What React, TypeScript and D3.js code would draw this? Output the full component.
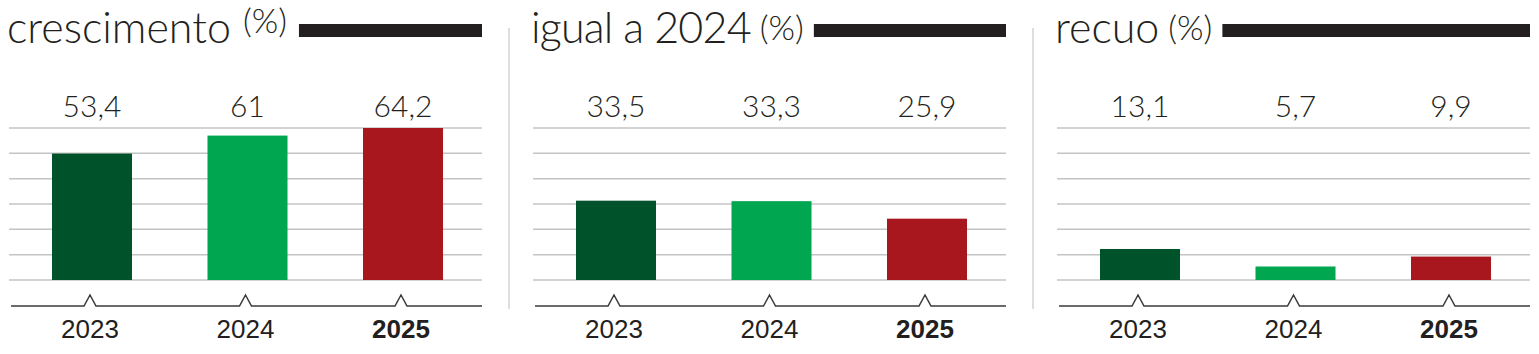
import React, { useEffect, useRef } from 'react';
import * as d3 from 'd3';

// dados (%)
const years = ['2023', '2024', '2025'];
const titles = ['crescimento', 'igual a 2024', 'recuo'];
const crescimento = [53.4, 61, 64.2];
const igual = [33.5, 33.3, 25.9];
const recuo = [13.1, 5.7, 9.9];
const barColors = ['#00522a', '#00a650', '#a8171e'];

const App = () => {
  const ref = useRef<SVGSVGElement>(null);

  useEffect(() => {
    const svg = d3.select(ref.current);
    svg.selectAll('*').remove();

    const series = [crescimento, igual, recuo];
    const panelW = 473;
    const panelX = [9, 533, 1057];
    const baseY = 280;
    const topY = 128;

    const y = d3.scaleLinear().domain([0, 64.2]).range([baseY, topY]);
    const x = d3.scaleBand().domain(years).range([0, 477]).paddingInner(0.4855).paddingOuter(0.2765);
    const fmt = (v: number) => String(v).replace('.', ',');

    // divisórias
    [509, 1033].forEach((dx) => {
      svg.append('line')
        .attr('x1', dx).attr('x2', dx)
        .attr('y1', 28).attr('y2', 309)
        .attr('stroke', '#c8c8c8').attr('stroke-width', 1.2);
    });

    series.forEach((vals, i) => {
      const g = svg.append('g').attr('transform', `translate(${panelX[i]},0)`);

      // título
      const title = g.append('text')
        .attr('x', -2).attr('y', 43)
        .attr('font-family', 'Lato, "Open Sans", sans-serif')
        .attr('font-weight', 300)
        .attr('font-size', 43)
        .attr('letter-spacing', i === 1 ? -0.8 : 0)
        .attr('fill', '#231f20')
        .text(titles[i]);
      const tw = (title.node() as SVGTextElement).getBBox().width;
      const pctX = -2 + tw + (i === 0 ? 12 : 9);
      const pct = g.append('text')
        .attr('x', pctX).attr('y', i === 0 ? 33 : 40)
        .attr('font-family', 'Lato, "Open Sans", sans-serif')
        .attr('font-weight', 300)
        .attr('font-size', 34)
        .attr('fill', '#231f20')
        .text('(%)');
      const pw = (pct.node() as SVGTextElement).getBBox().width;
      const barStart = pctX + pw + (i === 0 ? 12 : 10);
      g.append('rect')
        .attr('x', barStart).attr('y', 24)
        .attr('width', panelW - barStart).attr('height', 13)
        .attr('fill', '#231f20');

      // linhas de grade
      g.selectAll('line.grid')
        .data(d3.range(7))
        .enter()
        .append('line')
        .attr('class', 'grid')
        .attr('x1', 0).attr('x2', panelW)
        .attr('y1', (d) => y((d * 64.2) / 6))
        .attr('y2', (d) => y((d * 64.2) / 6))
        .attr('stroke', '#c4c4c4').attr('stroke-width', 1.5);

      // barras
      g.selectAll('rect.bar')
        .data(vals)
        .enter()
        .append('rect')
        .attr('class', 'bar')
        .attr('x', (d, j) => x(years[j])!)
        .attr('y', (d) => y(d))
        .attr('width', x.bandwidth())
        .attr('height', (d) => baseY - y(d))
        .attr('fill', (d, j) => barColors[j]);

      // valores
      g.selectAll('text.val')
        .data(vals)
        .enter()
        .append('text')
        .attr('class', 'val')
        .attr('x', (d, j) => x(years[j])! + x.bandwidth() / 2)
        .attr('y', 117)
        .attr('text-anchor', 'middle')
        .attr('font-family', 'Lato, "Open Sans", sans-serif')
        .attr('font-weight', 300)
        .attr('font-size', 30)
        .attr('fill', '#231f20')
        .text((d) => fmt(d));

      // eixo com marcas em forma de acento circunflexo
      const axisY = 306;
      const path = d3.path();
      path.moveTo(2, axisY);
      years.forEach((yr) => {
        const cx = x(yr)! + x.bandwidth() / 2 - 2;
        path.lineTo(cx - 6, axisY);
        path.lineTo(cx, axisY - 11);
        path.lineTo(cx + 6, axisY);
      });
      path.lineTo(panelW, axisY);
      g.append('path')
        .attr('d', path.toString())
        .attr('fill', 'none')
        .attr('stroke', '#3a3a3a')
        .attr('stroke-width', 1.5);

      g.selectAll('text.year')
        .data(years)
        .enter()
        .append('text')
        .attr('class', 'year')
        .attr('x', (d) => x(d)! + x.bandwidth() / 2 - 2)
        .attr('y', 338)
        .attr('text-anchor', 'middle')
        .attr('font-family', '"Liberation Sans", Arial, sans-serif')
        .attr('font-weight', (d, j) => (j === 2 ? 'bold' : 'normal'))
        .attr('font-size', 26)
        .attr('fill', '#231f20')
        .text((d) => d);
    });
  }, []);

  return (
    <svg
      ref={ref}
      width={1539}
      height={354}
      style={{ position: 'absolute', left: 0, top: 0, background: '#fff' }}
    />
  );
};

export default App;
